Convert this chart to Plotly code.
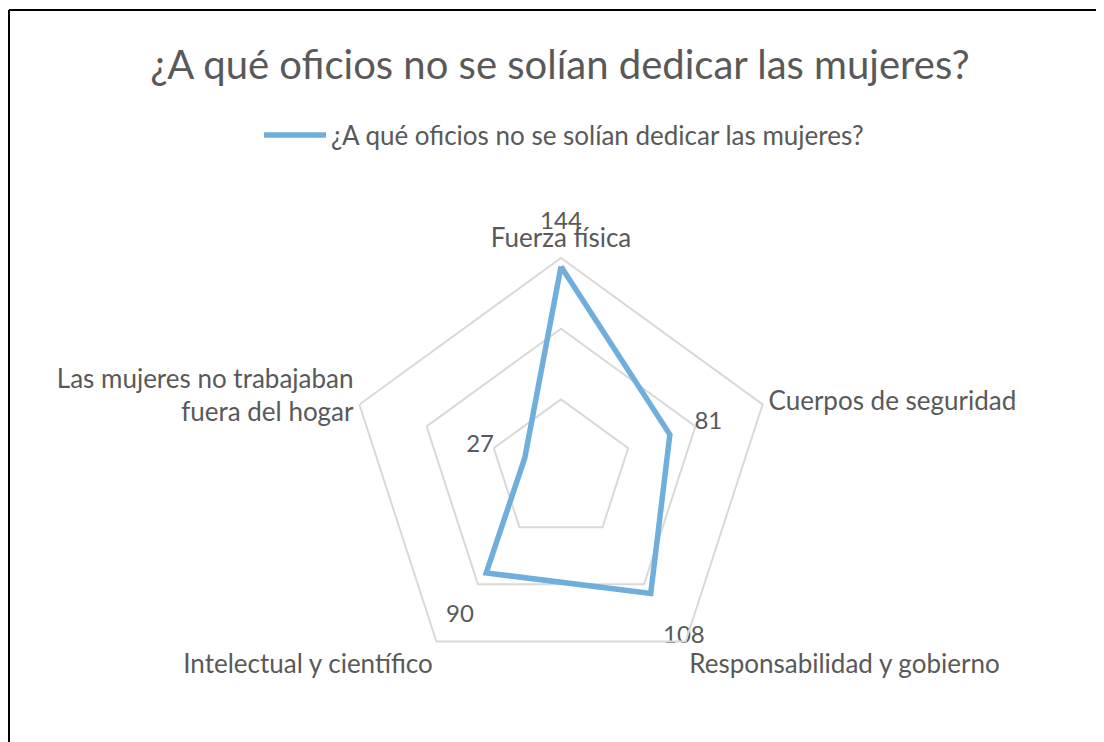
import plotly.graph_objects as go

# data
categories = [
    "Fuerza física",
    "Cuerpos de seguridad",
    "Responsabilidad y gobierno",
    "Intelectual y científico",
    "Las mujeres no trabajaban<br>fuera del hogar",
]
values = [144, 81, 108, 90, 27]
series_name = "¿A qué oficios no se solían dedicar las mujeres?"

# label text padded so it sits off the vertex like in the reference
label_text = [
    "144<br>\u00a0",
    "\u00a0\u00a0\u00a0\u00a081",
    "\u00a0<br>\u00a0\u00a0108",
    "\u00a0<br>90\u00a0\u00a0",
    "27\u00a0\u00a0\u00a0\u00a0\u00a0",
]
label_pos = ["top center", "top right", "bottom right", "bottom left", "top left"]

FONT = "Lato, 'Open Sans', sans-serif"
GREY = "#595959"
W, H = 1104, 742
OFF = 8  # page margin of the browser body

fig = go.Figure()
fig.add_trace(go.Scatterpolar(
    r=values + values[:1],
    theta=categories + categories[:1],
    mode="lines+text",
    name=series_name,
    text=label_text + [""],
    textposition=label_pos + ["top center"],
    textfont=dict(size=24, color=GREY, family=FONT),
    line=dict(color="#70afdc", width=5.5),
    cliponaxis=False,
))

cx, cy, rad = 561 - OFF, 470 - OFF, 212
fig.update_layout(
    width=W, height=H,
    margin=dict(l=0, r=0, t=0, b=0),
    paper_bgcolor="white",
    plot_bgcolor="white",
    font=dict(family=FONT, color=GREY),
    title=dict(text=series_name, x=0.5, xanchor="center", y=(H - (65 - OFF)) / H, yanchor="middle",
               font=dict(size=40, color=GREY, family=FONT)),
    showlegend=True,
    legend=dict(orientation="h", x=(564 - OFF) / W, xanchor="center", y=(H - (135 - OFF)) / H,
                yanchor="middle", font=dict(size=26, color=GREY, family=FONT), itemwidth=62),
    polar=dict(
        domain=dict(x=[(cx - rad) / W, (cx + rad) / W], y=[(H - cy - rad) / H, (H - cy + rad) / H]),
        gridshape="linear",
        bgcolor="white",
        radialaxis=dict(range=[0, 150], tickvals=[50, 100, 150], showticklabels=False,
                        showline=False, ticks="", gridcolor="#d9d9d9", gridwidth=2),
        angularaxis=dict(direction="clockwise", rotation=90, showline=True,
                         linecolor="#d9d9d9", linewidth=2,
                         showgrid=False, ticks="",
                         tickfont=dict(size=26, color=GREY, family=FONT)),
    ),
    shapes=[
        dict(type="line", xref="paper", yref="paper", x0=1 / W, x1=1 / W, y0=-0.05, y1=(H - 2) / H,
             line=dict(color="black", width=2)),
        dict(type="line", xref="paper", yref="paper", x0=1 / W, x1=1.05, y0=(H - 2) / H, y1=(H - 2) / H,
             line=dict(color="black", width=2)),
    ],
)

fig.write_html("out.html")
